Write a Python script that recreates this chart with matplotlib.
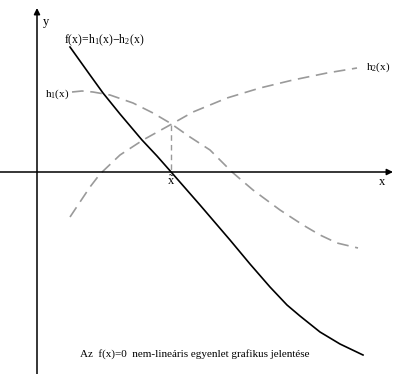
import matplotlib
matplotlib.use("Agg")
import matplotlib.pyplot as plt

plt.rcParams["font.family"] = ["Liberation Serif", "DejaVu Serif"]
plt.rcParams["mathtext.fontset"] = "custom"
plt.rcParams["mathtext.rm"] = "Liberation Serif"
plt.rcParams["mathtext.it"] = "Liberation Serif"

# curve samples (x right, y down, in pixels)
f_x = [70, 80, 90, 103, 120, 142, 157, 172, 200, 230, 250, 270, 287, 300, 320, 340, 363]
f_y = [47, 61, 75, 93, 114, 140, 156, 173, 205, 240, 264, 287, 305, 316, 332, 344, 355]

h1_x = [72, 82, 93, 110, 133, 153, 170, 190, 210, 232, 253, 280, 303, 320, 337, 358]
h1_y = [92, 91, 92, 95, 103, 113, 123, 137, 150, 172, 190, 210, 225, 235, 243, 248]

h2_x = [70, 80, 90, 100, 120, 143, 170, 193, 227, 260, 293, 327, 357]
h2_y = [217, 202, 187, 174, 155, 140, 125, 112, 98, 88, 80, 73, 68]

root_x = 171
root_y = 125
axis_y = 172
axis_x = 37

labels = {
    "f": r"f(x)=h$_1$(x)$-$h$_2$(x)",
    "h1": r"h$_1$(x)",
    "h2": r"h$_2$(x)",
    "root": r"$\tilde{\mathrm{x}}$",
    "caption": "Az  f(x)=0  nem-lineáris egyenlet grafikus jelentése",
}

fig = plt.figure(figsize=(3.93, 3.74), dpi=100)
ax = fig.add_axes([0, 0, 1, 1])
ax.set_xlim(0, 393)
ax.set_ylim(374, 0)
ax.axis("off")

# coordinate axes with arrow heads
arrow = dict(arrowstyle="-|>", color="black", lw=1.1,
             mutation_scale=9, shrinkA=0, shrinkB=0)
ax.annotate("", xy=(393, axis_y), xytext=(0, axis_y), arrowprops=arrow)
ax.annotate("", xy=(axis_x, 8), xytext=(axis_x, 374), arrowprops=arrow)
ax.text(43, 22, "y", fontsize=9, ha="left", va="center")
ax.text(382, 182, "x", fontsize=9, ha="center", va="center")

# curves
gray = "#9a9a9a"
ax.plot(h1_x, h1_y, color=gray, lw=1.2, dashes=(7, 4))
ax.plot(h2_x, h2_y, color=gray, lw=1.2, dashes=(7, 4))
ax.plot(f_x, f_y, color="black", lw=1.2)
ax.plot([root_x, root_x], [root_y, axis_y], color=gray, lw=1.0, dashes=(4, 3))

ax.text(64, 40, labels["f"], fontsize=8.5, ha="left", va="center")
ax.text(45, 94, labels["h1"], fontsize=8, ha="left", va="center")
ax.text(366, 67, labels["h2"], fontsize=8, ha="left", va="center")
ax.text(171, 181, labels["root"], fontsize=9, ha="center", va="center")
ax.text(80, 354, labels["caption"], fontsize=8, ha="left", va="center")

fig.savefig("out.png", dpi=100)
